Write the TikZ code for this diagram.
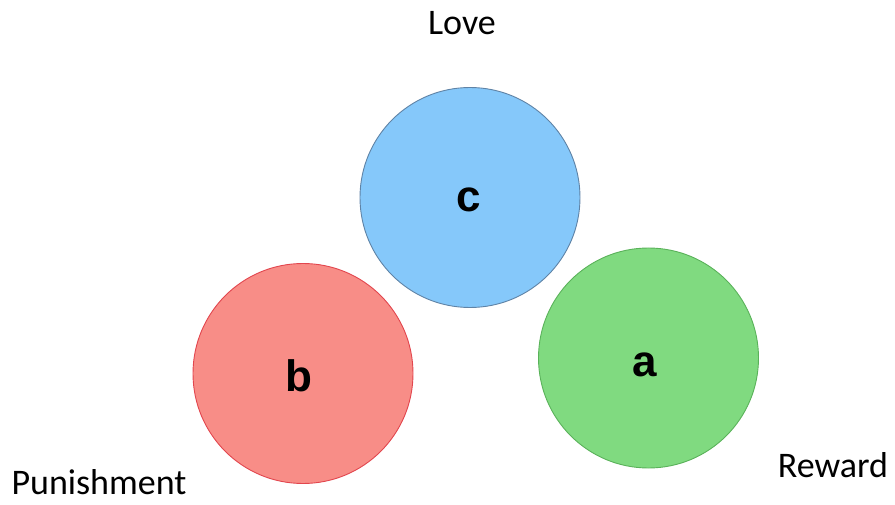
\documentclass[tikz,border=0pt]{standalone}
\usepackage{fontspec}
\setmainfont{Carlito}
\newfontfamily\letterfont{Liberation Sans}
\usepackage{tikz}
\usetikzlibrary{positioning}
\definecolor{loveblue}{HTML}{85C8FA}
\definecolor{loveedge}{HTML}{5F83A6}
\definecolor{punred}{HTML}{F88D87}
\definecolor{punedge}{HTML}{E2464E}
\definecolor{rewgreen}{HTML}{80DA80}
\definecolor{rewedge}{HTML}{5AB25A}
\tikzset{
	ball/.style={circle, minimum size=220pt, inner sep=0pt, line width=0.9pt}
}
\tikzset{
	letter/.style={inner sep=0pt, font=\letterfont\bfseries\fontsize{44}{44}\selectfont}
}
\tikzset{
	caption/.style={inner sep=0pt, anchor=base, font=\fontsize{36}{36}\selectfont}
}

\begin{document}
\begin{tikzpicture}[x=1pt, y=-1pt]
      \useasboundingbox (0,0) rectangle (895,505);
      \node[ball, fill=loveblue, draw=loveedge] (love) at (470,197.5) {};
      \node[ball, fill=punred, draw=punedge] (punish) at (303,373.5) {};
      \node[ball, fill=rewgreen, draw=rewedge] (reward) at (648.5,358) {};
      \node[letter] (c) at (469,200) {c};
      \node[letter] (b) at (299,375.5) {b};
      \node[letter] (a) at (644.5,365) {a};
      % names of the three
      \node[caption] (lovetxt) at (462,35) {Love};
      \node[caption] (punishtxt) at (99,494) {Punishment};
      \node[caption] (rewardtxt) at (833,477) {Reward};
    \end{tikzpicture}
\end{document}
